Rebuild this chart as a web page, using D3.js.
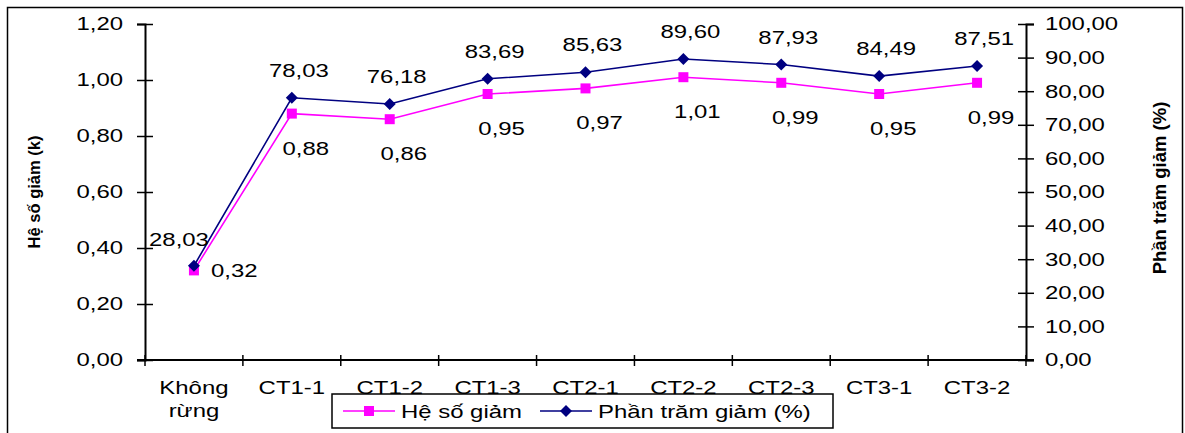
<!DOCTYPE html>
<html>
<head>
<meta charset="utf-8">
<script src="https://cdn.jsdelivr.net/npm/d3@7"></script>
<style>
  html, body { margin: 0; padding: 0; background: #fff; }
  svg { display: block; }
  text { font-family: "Liberation Sans", Arial, sans-serif; fill: #000; }
</style>
</head>
<body>
<svg id="chart" width="1185" height="433"></svg>
<script>
// ---- data ----
const categories = ["Không rừng", "CT1-1", "CT1-2", "CT1-3", "CT2-1", "CT2-2", "CT2-3", "CT3-1", "CT3-2"];
const heSoGiam = [0.32, 0.88, 0.86, 0.95, 0.97, 1.01, 0.99, 0.95, 0.99];
const phanTramGiam = [28.03, 78.03, 76.18, 83.69, 85.63, 89.60, 87.93, 84.49, 87.51];
const leftTicks = [0, 0.2, 0.4, 0.6, 0.8, 1.0, 1.2];
const rightTicks = [0, 10, 20, 30, 40, 50, 60, 70, 80, 90, 100];
const seriesNames = ["Hệ số giảm", "Phần trăm giảm (%)"];
const leftTitle = "Hệ số giảm (k)";
const rightTitle = "Phần trăm giảm (%)";

// ---- layout ----
const svg = d3.select("#chart");
const plot = { left: 145, right: 1026, top: 24, bottom: 360 };
const SX = 1.33; // horizontal stretch of text in reference
const FS = 18;
const fmt = v => d3.format(".2f")(v).replace(".", ",");
const st = (x, y) => `translate(${x},${y}) scale(${SX},1)`;

const colK = "#FF00FF";
const colP = "#000080";

// outer border
svg.append("rect").attr("x", 7.5).attr("y", 7.5).attr("width", 1175).attr("height", 460)
  .attr("fill", "none").attr("stroke", "#000").attr("stroke-width", 1.5);

const x = d3.scaleBand().domain(categories).range([plot.left, plot.right]).padding(0);
const yL = d3.scaleLinear().domain([0, 1.2]).range([plot.bottom, plot.top]);
const yR = d3.scaleLinear().domain([0, 100]).range([plot.bottom, plot.top]);
const cx = c => x(c) + x.bandwidth() / 2;

// left axis
const gL = svg.append("g").attr("transform", `translate(${plot.left},0)`)
  .call(d3.axisLeft(yL).tickValues(leftTicks).tickSize(8).tickFormat(""));
gL.select(".domain").attr("stroke", "#000").attr("stroke-width", 2);
gL.selectAll(".tick line").attr("x1", -8).attr("x2", 8).attr("stroke", "#000").attr("stroke-width", 1.5);
svg.append("g").selectAll("text").data(leftTicks).join("text")
  .attr("transform", d => st(123, yL(d)))
  .attr("dy", "0.36em").attr("text-anchor", "end").style("font-size", FS + "px")
  .text(d => fmt(d));

// right axis
const gR = svg.append("g").attr("transform", `translate(${plot.right},0)`)
  .call(d3.axisRight(yR).tickValues(rightTicks).tickSize(8).tickFormat(""));
gR.select(".domain").attr("stroke", "#000").attr("stroke-width", 2);
gR.selectAll(".tick line").attr("x1", -8).attr("x2", 8).attr("stroke", "#000").attr("stroke-width", 1.5);
svg.append("g").selectAll("text").data(rightTicks).join("text")
  .attr("transform", d => st(1045, yR(d)))
  .attr("dy", "0.36em").attr("text-anchor", "start").style("font-size", FS + "px")
  .text(d => fmt(d));

// bottom axis
svg.append("line").attr("x1", plot.left - 8).attr("x2", plot.right + 8)
  .attr("y1", plot.bottom).attr("y2", plot.bottom).attr("stroke", "#000").attr("stroke-width", 2);
const bounds = categories.map(c => x(c)).concat([x(categories[categories.length - 1]) + x.bandwidth()]);
svg.append("g").selectAll("line").data(bounds).join("line")
  .attr("x1", d => d).attr("x2", d => d).attr("y1", plot.bottom - 5).attr("y2", plot.bottom + 6)
  .attr("stroke", "#000").attr("stroke-width", 1.5);
const catG = svg.append("g").selectAll("text").data(categories).join("text")
  .attr("transform", d => st(cx(d), 394)).attr("text-anchor", "middle").style("font-size", FS + "px");
catG.each(function (d) {
  const parts = d.split(" ");
  const t = d3.select(this);
  parts.forEach((p, i) => {
    t.append("tspan").attr("x", 0).attr("dy", i === 0 ? 0 : 23).text(p);
  });
});

// axis titles
svg.append("text").attr("transform", `translate(40,192) rotate(-90)`)
  .attr("text-anchor", "middle").style("font-size", "16.5px").style("font-weight", "bold")
  .text(leftTitle);
svg.append("text").attr("transform", `translate(1166,188) rotate(-90)`)
  .attr("text-anchor", "middle").style("font-size", "18.5px").style("font-weight", "bold")
  .text(rightTitle);

// lines
const lineK = d3.line().x((d, i) => cx(categories[i])).y(d => yL(d));
const lineP = d3.line().x((d, i) => cx(categories[i])).y(d => yR(d));
svg.append("path").attr("d", lineK(heSoGiam)).attr("fill", "none").attr("stroke", colK).attr("stroke-width", 1.6);
svg.append("path").attr("d", lineP(phanTramGiam)).attr("fill", "none").attr("stroke", colP).attr("stroke-width", 1.6);

// markers
svg.append("g").selectAll("rect").data(heSoGiam).join("rect")
  .attr("x", (d, i) => cx(categories[i]) - 5).attr("y", d => yL(d) - 5)
  .attr("width", 10).attr("height", 10).attr("fill", colK);
const diamond = "M0,-6L6,0L0,6L-6,0Z";
svg.append("g").selectAll("path").data(phanTramGiam).join("path")
  .attr("d", diamond)
  .attr("transform", (d, i) => `translate(${cx(categories[i])},${yR(d)})`)
  .attr("fill", colP);

// data labels
svg.append("g").selectAll("text").data(heSoGiam).join("text")
  .attr("transform", (d, i) => i === 0 ? st(cx(categories[i]) + 17, yL(d) + 7) : st(cx(categories[i]) + 14, yL(d) + 41))
  .attr("text-anchor", (d, i) => i === 0 ? "start" : "middle").style("font-size", FS + "px")
  .text(d => fmt(d));
svg.append("g").selectAll("text").data(phanTramGiam).join("text")
  .attr("transform", (d, i) => i === 0 ? st(cx(categories[i]) - 15, yR(d) - 20) : st(cx(categories[i]) + 7, yR(d) - 21))
  .attr("text-anchor", "middle").style("font-size", FS + "px")
  .text(d => fmt(d));

// legend
const lg = svg.append("g");
lg.append("rect").attr("x", 332).attr("y", 394).attr("width", 501).attr("height", 34)
  .attr("fill", "#fff").attr("stroke", "#000").attr("stroke-width", 1.5);
const legendItems = [
  { name: seriesNames[0], color: colK, x0: 343, marker: "square", tx: 401 },
  { name: seriesNames[1], color: colP, x0: 540, marker: "diamond", tx: 598 }
];
legendItems.forEach(it => {
  lg.append("line").attr("x1", it.x0).attr("x2", it.x0 + 52).attr("y1", 411).attr("y2", 411)
    .attr("stroke", it.color).attr("stroke-width", 1.6);
  if (it.marker === "square") {
    lg.append("rect").attr("x", it.x0 + 26 - 5).attr("y", 406).attr("width", 10).attr("height", 10).attr("fill", it.color);
  } else {
    lg.append("path").attr("d", diamond).attr("transform", `translate(${it.x0 + 26},411)`).attr("fill", it.color);
  }
  lg.append("text").attr("transform", st(it.tx, 418)).style("font-size", FS + "px").text(it.name);
});
</script>
</body>
</html>
